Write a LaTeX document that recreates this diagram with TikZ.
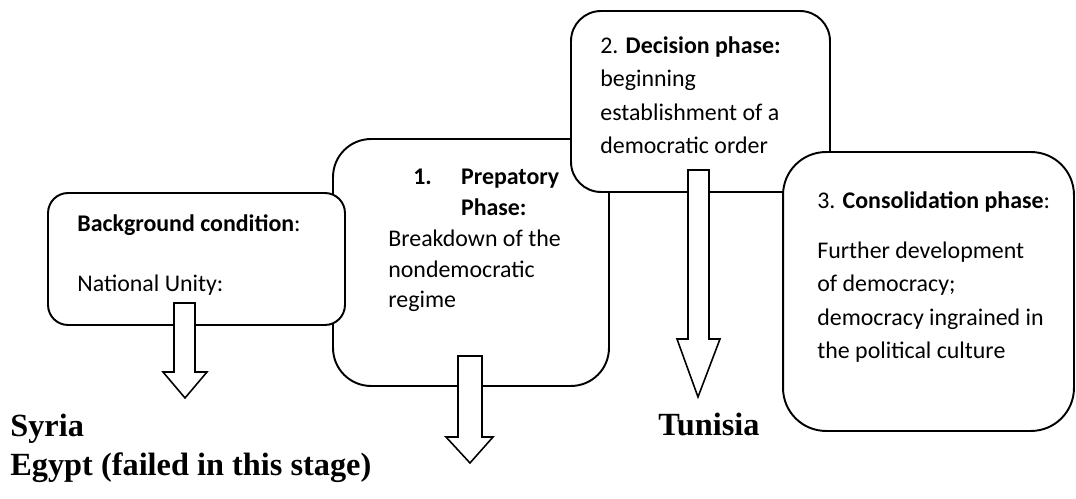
\documentclass[tikz,border=0pt]{standalone}
\usepackage{fontspec}
\setmainfont{Carlito}
\newfontfamily\countryfont{Liberation Serif}
\usepackage{tikz}
\usetikzlibrary{shapes}

\tikzset{
	phasebox/.style={draw,line width=1.1pt,fill=white,rounded corners=#1,inner sep=0pt},
	phasetext/.style={anchor=base west,align=left,inner sep=0pt,font=\fontsize{13.6}{19.1}\selectfont},
	country/.style={anchor=base west,inner sep=0pt,font=\countryfont\bfseries\fontsize{18.4}{20}\selectfont},
	blockarrow/.style={draw,line width=0.9pt,fill=white,line join=miter}
}

\begin{document}
\begin{tikzpicture}[x=0.02cm,y=-0.02cm]

		\useasboundingbox (0,0) rectangle (1076,499);

		\node (PrepBox) at (471,262.5) [phasebox=0.76cm,minimum width=5.52cm,minimum height=4.94cm]{};
		\node (BackgroundBox) at (196.5,259) [phasebox=0.4cm,minimum width=5.94cm,minimum height=2.64cm]{};
		\node (DecisionBox) at (700.5,101.5) [phasebox=0.6cm,minimum width=5.18cm,minimum height=3.62cm]{};
		\node (ConsolidationBox) at (928.5,291.5) [phasebox=0.86cm,minimum width=5.82cm,minimum height=5.58cm]{};

		\node (BackgroundText) at (77,292) [phasetext]{\textbf{Background condition}:\\[15.6pt]National Unity:};
		\node (PrepText) at (388,308) [phasetext,font=\fontsize{13.6}{17.6}\selectfont]{\hspace*{14.2pt}\makebox[27.2pt][l]{\textbf{1.}}\textbf{Prepatory}\\\hspace*{41.4pt}\textbf{Phase:}\\Breakdown of the\\nondemocratic\\regime};
		\node (DecisionText) at (600,154) [phasetext]{2. \textbf{Decision phase:}\\beginning\\establishment of a\\democratic order};
		\node (ConsolidationText) at (817,359) [phasetext]{3. \textbf{Consolidation phase}:\\[9.3pt]Further development\\of democracy;\\democracy ingrained in\\the political culture};

		\draw [blockarrow] (174,303) -- (195,303) -- (195,372) -- (207,372) -- (185,398) -- (163,372) -- (174,372) -- cycle;
		\draw [blockarrow] (458,356) -- (482,356) -- (482,437) -- (493,437) -- (470,463) -- (446,437) -- (458,437) -- cycle;
		\draw [blockarrow] (688,170) -- (709,170) -- (709,339) -- (720,339) -- (698,397) -- (677,339) -- (688,339) -- cycle;

		\node (Syria) at (10,437) [country]{Syria};
		\node (Egypt) at (10,476) [country]{Egypt (failed in this stage)};
		\node (Tunisia) at (658,436) [country]{Tunisia};

	\end{tikzpicture}
\end{document}
